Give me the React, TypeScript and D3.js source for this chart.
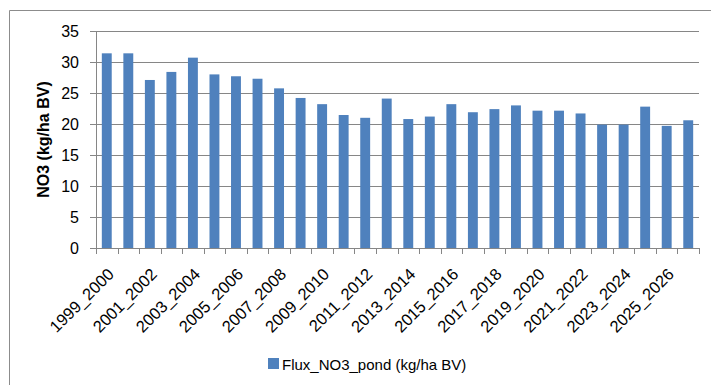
import React from "react";
import * as d3 from "d3";

const categories: string[] = [
  "1999_2000", "2000_2001", "2001_2002", "2002_2003", "2003_2004", "2004_2005", "2005_2006",
  "2006_2007", "2007_2008", "2008_2009", "2009_2010", "2010_2011", "2011_2012", "2012_2013",
  "2013_2014", "2014_2015", "2015_2016", "2016_2017", "2017_2018", "2018_2019", "2019_2020",
  "2020_2021", "2021_2022", "2022_2023", "2023_2024", "2024_2025", "2025_2026", "2026_2027",
];
const fluxValues: number[] = [
  31.4, 31.4, 27.1, 28.4, 30.7, 28.0, 27.7, 27.3, 25.75, 24.2, 23.2, 21.45, 21.0, 24.1,
  20.8, 21.2, 23.2, 21.9, 22.4, 23.0, 22.15, 22.15, 21.7, 19.9, 19.9, 22.8, 19.7, 20.6,
];
const yTicks: number[] = [0, 5, 10, 15, 20, 25, 30, 35];
const seriesName = "Flux_NO3_pond (kg/ha BV)";
const yTitle = "NO3 (kg/ha BV)";

const W = 711;
const H = 385;
const plot = { left: 96, right: 699, top: 31, bottom: 248 };
const FONT = "'Liberation Sans', Arial, sans-serif";
const GRID = "#868686";
const BAR = "#4F81BD";

export default function App() {
  const x = d3.scaleBand<string>().domain(categories).range([plot.left, plot.right]).padding(0);
  const y = d3.scaleLinear().domain([0, 35]).range([plot.bottom, plot.top]);
  const bw = x.bandwidth();
  const barW = bw * 0.46;

  return (
    <svg
      width={W}
      height={H}
      style={{ position: "absolute", left: 0, top: 0, background: "#fff" }}
      fontFamily={FONT}
    >
      {/* outer chart border */}
      <line x1={9.5} y1={10.5} x2={W} y2={10.5} stroke="#8c8c8c" strokeWidth={1} />
      <line x1={9.5} y1={10.5} x2={9.5} y2={H} stroke="#8c8c8c" strokeWidth={1} />

      {/* gridlines and y ticks */}
      {yTicks.map((t) => (
        <g key={t}>
          <line
            x1={plot.left - 6}
            x2={plot.right}
            y1={Math.round(y(t)) + 0.5}
            y2={Math.round(y(t)) + 0.5}
            stroke={GRID}
            strokeWidth={1}
          />
          <text x={79} y={y(t)} dy="0.36em" textAnchor="end" fontSize={16} fill="#000">
            {t}
          </text>
        </g>
      ))}

      {/* bars */}
      {fluxValues.map((v, i) => {
        const cx = (x(categories[i]) as number) + bw / 2;
        return (
          <rect
            key={i}
            x={cx - barW / 2}
            y={y(v)}
            width={barW}
            height={y(0) - y(v)}
            fill={BAR}
          />
        );
      })}

      {/* y axis line */}
      <line x1={plot.left + 0.5} x2={plot.left + 0.5} y1={plot.top} y2={plot.bottom} stroke={GRID} />
      {/* x axis line */}
      <line x1={plot.left} x2={plot.right} y1={plot.bottom + 0.5} y2={plot.bottom + 0.5} stroke={GRID} />

      {/* x ticks */}
      {categories.concat(["__end"]).map((c, i) => {
        const xx = i < categories.length ? (x(c) as number) : plot.right;
        return (
          <line
            key={"t" + i}
            x1={Math.round(xx) + 0.5}
            x2={Math.round(xx) + 0.5}
            y1={plot.bottom}
            y2={plot.bottom + 6}
            stroke={GRID}
          />
        );
      })}

      {/* x labels */}
      {categories.map((c, i) =>
        i % 2 === 0 ? (
          <text
            key={"l" + i}
            transform={`translate(${(x(c) as number) + bw / 2 + 4},${plot.bottom + 23}) rotate(-45)`}
            textAnchor="end"
            dy="0.36em"
            fontSize={16.5}
            fill="#000"
          >
            {c}
          </text>
        ) : null
      )}

      {/* y title */}
      <text
        transform={`translate(${43},${(plot.top + plot.bottom) / 2}) rotate(-90)`}
        textAnchor="middle"
        dy="0.36em"
        fontSize={16}
        fontWeight="bold"
        fill="#000"
      >
        {yTitle}
      </text>

      {/* legend */}
      <rect x={268} y={358} width={11} height={11} fill={BAR} />
      <text x={282} y={370} fontSize={15} fill="#000">
        {seriesName}
      </text>
    </svg>
  );
}
